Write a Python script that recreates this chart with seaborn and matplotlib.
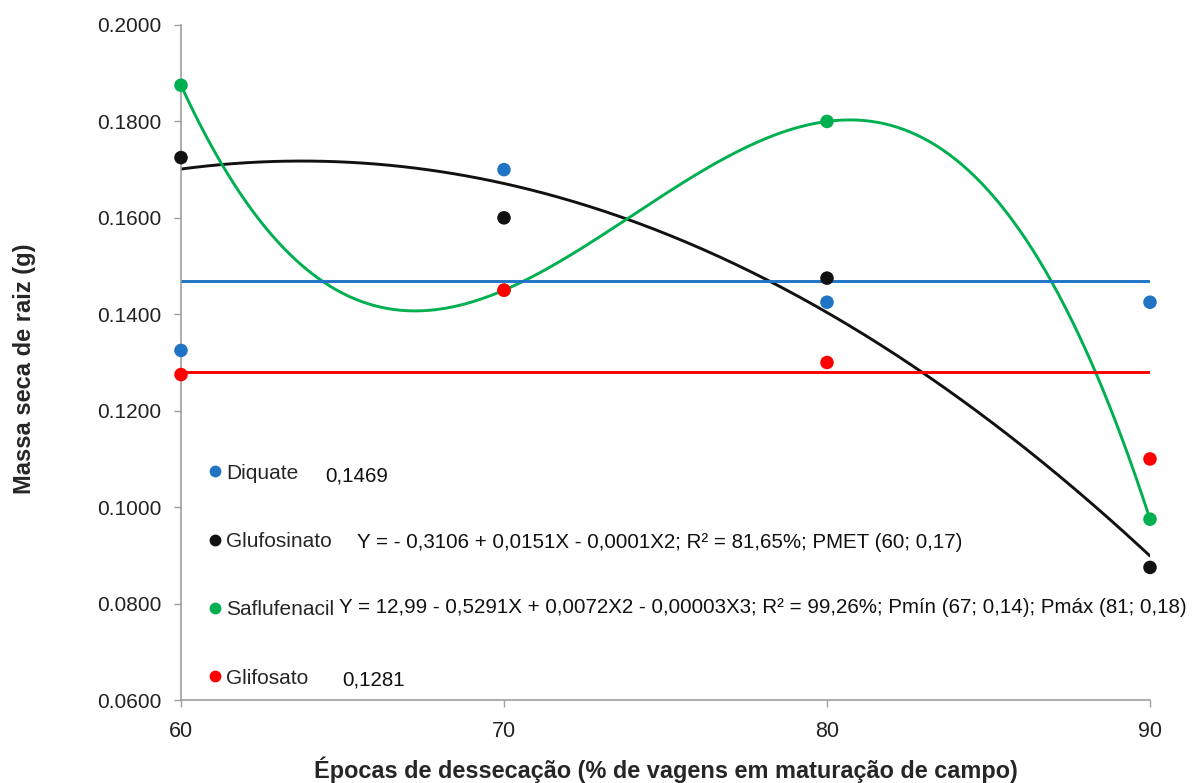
import numpy as np
import pandas as pd
import matplotlib
matplotlib.use("Agg")
import matplotlib.pyplot as plt
from matplotlib.lines import Line2D
import seaborn as sns

# ---- data ----
epocas = [60, 70, 80, 90]
diquate = [0.1325, 0.1700, 0.1425, 0.1425]
glufosinato = [0.1725, 0.1600, 0.1475, 0.0875]
saflufenacil = [0.1875, 0.1450, 0.1800, 0.0975]
glifosato = [0.1275, 0.1450, 0.1300, 0.1100]
media_diquate = 0.1469
media_glifosato = 0.1281

series_names = ["Diquate", "Glufosinato", "Saflufenacil", "Glifosato"]
colors = {"Diquate": "#1f74c4", "Glufosinato": "#111111",
          "Saflufenacil": "#00b050", "Glifosato": "#ff0000"}
equations = ["0,1469",
             "Y = - 0,3106 + 0,0151X - 0,0001X2; R² = 81,65%; PMET (60; 0,17)",
             "Y = 12,99 - 0,5291X + 0,0072X2 - 0,00003X3; R² = 99,26%; Pmín (67; 0,14); Pmáx (81; 0,18)",
             "0,1281"]

sns.set_theme(style="white")
plt.rcParams["font.family"] = ["Liberation Sans", "DejaVu Sans"]

fig = plt.figure(figsize=(11.95, 7.83), dpi=100)
ax = fig.add_axes([181/1195, 1-700/783, 969/1195, 675/783])

df = pd.DataFrame({
    "x": epocas * 4,
    "y": diquate + glufosinato + saflufenacil + glifosato,
    "s": sum([[n]*4 for n in series_names], []),
})

# fitted curves
xs = np.linspace(60, 90, 300)
c2 = np.polyfit(epocas, glufosinato, 2)
c3 = np.polyfit(epocas, saflufenacil, 3)
curves = pd.DataFrame({
    "x": np.concatenate([xs, xs, [60, 90], [60, 90]]),
    "y": np.concatenate([np.polyval(c2, xs), np.polyval(c3, xs),
                         [media_diquate]*2, [media_glifosato]*2]),
    "s": ["Glufosinato"]*300 + ["Saflufenacil"]*300 + ["Diquate"]*2 + ["Glifosato"]*2,
})
sns.lineplot(data=curves, x="x", y="y", hue="s", palette=colors, linewidth=2.1,
             legend=False, ax=ax, sort=False)
sns.scatterplot(data=df, x="x", y="y", hue="s", palette=colors, s=95,
                edgecolor="none", legend=False, ax=ax, zorder=5, clip_on=False)

ax.set_xlim(60, 90)
ax.set_ylim(0.06, 0.20)
ax.set_xticks(epocas)
ax.set_yticks(np.arange(0.06, 0.2001, 0.02))
ax.set_yticklabels([f"{v:.4f}" for v in np.arange(0.06, 0.2001, 0.02)])
ax.tick_params(axis="both", colors="#222222", length=5, width=1,
               direction="out", left=True, bottom=True, color="#a0a0a0")
ax.tick_params(axis="y", labelsize=15, pad=9)
ax.tick_params(axis="x", labelsize=15.5, pad=10)
for sp in ["top", "right"]:
    ax.spines[sp].set_visible(False)
for sp in ["left", "bottom"]:
    ax.spines[sp].set_color("#a0a0a0")
    ax.spines[sp].set_linewidth(1.2)

ax.set_xlabel("Épocas de dessecação (% de vagens em maturação de campo)",
              fontsize=16.9, fontweight="bold", va="center")
ax.xaxis.set_label_coords(0.5, (700-770)/675)
ax.set_ylabel("Massa seca de raiz (g)", fontsize=17, fontweight="bold", va="center")
ax.yaxis.set_label_coords((25-181)/969, (700-368.5)/675)

# legend
handles = [Line2D([], [], marker="o", linestyle="none", markersize=8.5,
                  markerfacecolor=colors[n], markeredgecolor="none") for n in series_names]
leg = ax.legend(handles, series_names, loc="upper left", bbox_to_anchor=(0.0158, 0.3625),
                frameon=False, fontsize=15, labelspacing=2.37, handletextpad=0.03,
                handlelength=1.0, borderaxespad=0)

eq_pos = [(0.1486, 0.332), (0.1816, 0.234), (0.163, 0.137), (0.166, 0.030)]
for (x, y), t in zip(eq_pos, equations):
    ax.text(x, y, t, transform=ax.transAxes, fontsize=14.8, va="center", ha="left",
            color="#111111")

fig.savefig("out.png", dpi=100)
